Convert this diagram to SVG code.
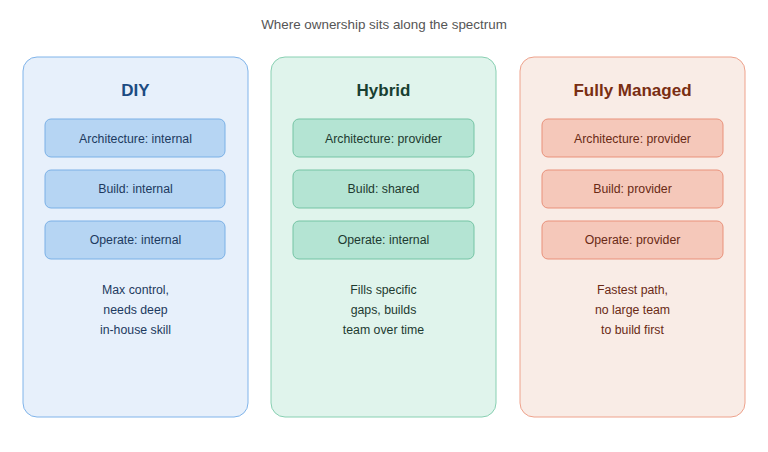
<svg xmlns="http://www.w3.org/2000/svg" width="768" height="452" viewBox="0 0 768 452">
<style>
text{font-family:"Liberation Sans",Arial,sans-serif;text-anchor:middle}
.cap{font-size:13.4px;fill:#555}
.ttl{font-size:17px;font-weight:bold}
.lbl{font-size:12.3px}
.note{font-size:12.3px}
.diy .panel{fill:#e7f0fb;stroke:#80b4ea}
.diy .box{fill:#b6d5f3;stroke:#7ab0e6}
.diy .ttl{fill:#1b4b82}
.diy .lbl,.diy .note{fill:#1d3a60}
.hyb .panel{fill:#e0f4ec;stroke:#88d0b2}
.hyb .box{fill:#b4e4d3;stroke:#74c4a4}
.hyb .ttl{fill:#183f31}
.hyb .lbl,.hyb .note{fill:#1d3a30}
.man .panel{fill:#f9ece6;stroke:#eea28c}
.man .box{fill:#f5c8ba;stroke:#e9917a}
.man .ttl{fill:#7a2e13}
.man .lbl,.man .note{fill:#6a2a15}
.panel,.box{stroke-width:1}
</style>
<text class="cap" x="384" y="29">Where ownership sits along the spectrum</text>
<g id="diy" class="diy">
<rect class="panel" x="23" y="57" width="225" height="360" rx="14"/>
<text class="ttl" x="135.5" y="96">DIY</text>
<rect class="box" x="45" y="119" width="180" height="38" rx="6"/>
<text class="lbl" x="135.5" y="142.5">Architecture: internal</text>
<rect class="box" x="45" y="170" width="180" height="38" rx="6"/>
<text class="lbl" x="135.5" y="193">Build: internal</text>
<rect class="box" x="45" y="221" width="180" height="38" rx="6"/>
<text class="lbl" x="135.5" y="244">Operate: internal</text>
<text class="note" x="135.5" y="294">Max control,</text>
<text class="note" x="135.5" y="314">needs deep</text>
<text class="note" x="135.5" y="334">in-house skill</text>
</g>
<g id="hybrid" class="hyb">
<rect class="panel" x="271" y="57" width="225" height="360" rx="14"/>
<text class="ttl" x="383.5" y="96">Hybrid</text>
<rect class="box" x="293" y="119" width="181" height="38" rx="6"/>
<text class="lbl" x="383.5" y="142.5">Architecture: provider</text>
<rect class="box" x="293" y="170" width="181" height="38" rx="6"/>
<text class="lbl" x="383.5" y="193">Build: shared</text>
<rect class="box" x="293" y="221" width="181" height="38" rx="6"/>
<text class="lbl" x="383.5" y="244">Operate: internal</text>
<text class="note" x="383.5" y="294">Fills specific</text>
<text class="note" x="383.5" y="314">gaps, builds</text>
<text class="note" x="383.5" y="334">team over time</text>
</g>
<g id="managed" class="man">
<rect class="panel" x="520" y="57" width="225" height="360" rx="14"/>
<text class="ttl" x="632.5" y="96">Fully Managed</text>
<rect class="box" x="542" y="119" width="181" height="38" rx="6"/>
<text class="lbl" x="632.5" y="142.5">Architecture: provider</text>
<rect class="box" x="542" y="170" width="181" height="38" rx="6"/>
<text class="lbl" x="632.5" y="193">Build: provider</text>
<rect class="box" x="542" y="221" width="181" height="38" rx="6"/>
<text class="lbl" x="632.5" y="244">Operate: provider</text>
<text class="note" x="632.5" y="294">Fastest path,</text>
<text class="note" x="632.5" y="314">no large team</text>
<text class="note" x="632.5" y="334">to build first</text>
</g>
<g id="connectors"/>
</svg>
